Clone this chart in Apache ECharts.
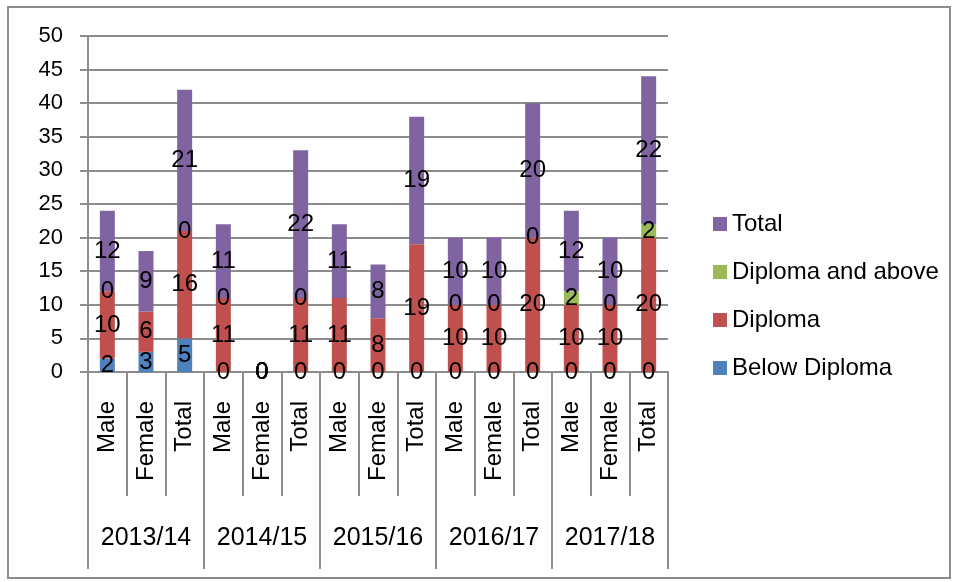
<!DOCTYPE html>
<html>
<head>
<meta charset="utf-8">
<script src="https://cdn.jsdelivr.net/npm/echarts@6/dist/echarts.min.js"></script>
<style>
  html, body { margin: 0; padding: 0; background: #fff; }
  #chart { width: 956px; height: 582px; }
</style>
</head>
<body>
<div id="chart"></div>
<script>
// categories
var groups = ["Male", "Female", "Total"];
var years = ["2013/14", "2014/15", "2015/16", "2016/17", "2017/18"];
var subCats = [];
years.forEach(function () { groups.forEach(function (g) { subCats.push(g); }); });

// series values ("-" = no label / no value in the source)
var belowDiploma = [2, 3, 5, 0, 0, 0, 0, 0, 0, 0, 0, 0, 0, 0, 0];
var diploma = [10, 6, 16, 11, 0, 11, 11, 8, 19, 10, 10, 20, 10, 10, 20];
var diplomaAbove = [0, "-", 0, 0, 0, 0, "-", "-", "-", 0, 0, 0, 2, 0, 2];
var total = [12, 9, 21, 11, 0, 22, 11, 8, 19, 10, 10, 20, 12, 10, 22];

var yTicks = [0, 5, 10, 15, 20, 25, 30, 35, 40, 45, 50];

var FONT = "Liberation Sans";
var GRAY = "#8c8c8c";

function barSeries(name, color, data) {
  return {
    name: name,
    type: "bar",
    stack: "all",
    barWidth: 15,
    data: data,
    itemStyle: { color: color },
    label: {
      show: true,
      position: "inside",
      color: "#000",
      fontFamily: FONT,
      fontSize: 24,
    },
    emphasis: { disabled: true },
  };
}

var mychart = echarts.init(document.getElementById("chart"), null, { renderer: "canvas" });
var option = {
  animation: false,
  textStyle: { fontFamily: FONT },
  graphic: [
    {
      type: "rect",
      shape: { x: 8, y: 7, width: 942, height: 571 },
      style: { fill: "none", stroke: GRAY, lineWidth: 2 },
      silent: true,
    },
  ],
  legend: {
    orient: "vertical",
    left: 708,
    top: 207,
    itemWidth: 14,
    itemHeight: 14,
    itemGap: 24,
    icon: "rect",
    data: ["Total", "Diploma and above", "Diploma", "Below Diploma"],
    textStyle: {
      color: "#000",
      fontFamily: FONT,
      fontSize: 24,
      lineHeight: 24,
    },
  },
  grid: {
    left: 88,
    right: 288,
    top: 36,
    bottom: 210,
    containLabel: false,
  },
  xAxis: [
    {
      type: "category",
      position: "bottom",
      data: subCats,
      axisLine: { show: true, lineStyle: { color: GRAY, width: 2 } },
      axisTick: { show: true, interval: 0, length: 124, lineStyle: { color: GRAY, width: 2 } },
      axisLabel: {
        interval: 0,
        rotate: 90,
        margin: 29,
        color: "#000",
        fontFamily: FONT,
        fontSize: 24,
      },
    },
    {
      type: "category",
      position: "bottom",
      data: years,
      axisLine: { show: false },
      axisTick: { show: true, interval: 0, length: 197, lineStyle: { color: GRAY, width: 2 } },
      axisLabel: {
        interval: 0,
        margin: 154,
        color: "#000",
        fontFamily: FONT,
        fontSize: 25,
      },
    },
  ],
  yAxis: {
    type: "value",
    min: yTicks[0],
    max: yTicks[yTicks.length - 1],
    interval: 5,
    axisLine: { show: true, lineStyle: { color: GRAY, width: 2 } },
    axisTick: { show: true, length: 8, lineStyle: { color: GRAY, width: 2 } },
    axisLabel: {
      color: "#000",
      fontFamily: FONT,
      fontSize: 22,
      margin: 25,
    },
    splitLine: { show: true, lineStyle: { color: GRAY, width: 2 } },
  },
  series: [
    barSeries("Below Diploma", "#4F81BD", belowDiploma),
    barSeries("Diploma", "#C0504D", diploma),
    barSeries("Diploma and above", "#9BBB59", diplomaAbove),
    barSeries("Total", "#8064A2", total),
  ],
};
mychart.setOption(option);
mychart.resize();
</script>
</body>
</html>
